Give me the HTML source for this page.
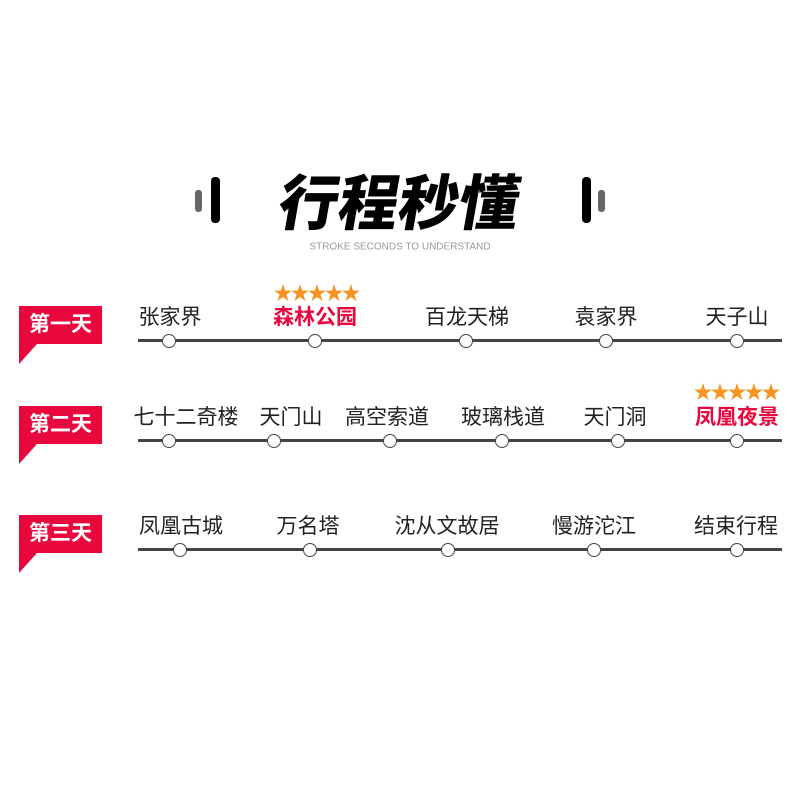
<!DOCTYPE html>
<html><head><meta charset="utf-8"><style>
body{margin:0;width:800px;height:800px;background:#fff;position:relative;overflow:hidden;font-family:"Liberation Sans","Noto Sans CJK SC",sans-serif}
.a{position:absolute}
.t{position:absolute;transform:translate(-50%,-50%);font-size:21px;color:#222;white-space:nowrap}
.r{color:#e8083e;font-weight:bold}
.line{position:absolute;left:138px;width:644px;height:3px;background:#444}
.c{position:absolute;width:12px;height:12px;border:1.5px solid #444;border-radius:50%;background:#fff;transform:translate(-50%,-50%)}
.tag{position:absolute;left:19px;width:83px;height:38px;background:#e8083e;color:#fff;font-weight:bold;font-size:21px;line-height:38px;text-align:center}
.tag:after{content:"";position:absolute;left:0;top:38px;border-top:0 solid transparent;border-left:18px solid #e8083e;border-top:0;border-bottom:20px solid transparent;width:0;height:0}
.st{position:absolute;color:#f7931e;font-size:19px;letter-spacing:-2px;transform:translate(-50%,-50%)}
</style></head><body>
<div class="a" style="left:195px;top:190px;width:7px;height:22px;background:#666;border-radius:3px"></div>
<div class="a" style="left:211px;top:177px;width:9px;height:46px;background:#000;border-radius:4px"></div>
<div class="a" style="left:582px;top:177px;width:9px;height:46px;background:#000;border-radius:4px"></div>
<div class="a" style="left:598px;top:190px;width:7px;height:22px;background:#666;border-radius:3px"></div>
<div class="t" style="left:400px;top:199px;font-size:60px;font-weight:900;color:#000;transform:translate(-50%,-50%) skewX(-10deg)">行程秒懂</div>
<div class="t" style="left:400px;top:247px;font-size:10px;color:#999">STROKE SECONDS TO UNDERSTAND</div>

<div class="tag" style="top:306px">第一天</div>
<div class="tag" style="top:406px">第二天</div>
<div class="tag" style="top:515px">第三天</div>

<div class="line" style="top:339px"></div>
<div class="line" style="top:439px"></div>
<div class="line" style="top:548px"></div>

<div class="st" style="left:316px;top:292px">★★★★★</div>
<div class="st" style="left:736px;top:391px">★★★★★</div>

<div class="t" style="left:170px;top:316px">张家界</div>
<div class="t r" style="left:315px;top:316px">森林公园</div>
<div class="t" style="left:467px;top:316px">百龙天梯</div>
<div class="t" style="left:606px;top:316px">袁家界</div>
<div class="t" style="left:737px;top:316px">天子山</div>
<div class="c" style="left:169px;top:341px"></div><div class="c" style="left:315px;top:341px"></div><div class="c" style="left:466px;top:341px"></div><div class="c" style="left:606px;top:341px"></div><div class="c" style="left:737px;top:341px"></div>

<div class="t" style="left:186px;top:416px">七十二奇楼</div>
<div class="t" style="left:291px;top:416px">天门山</div>
<div class="t" style="left:387px;top:416px">高空索道</div>
<div class="t" style="left:503px;top:416px">玻璃栈道</div>
<div class="t" style="left:615px;top:416px">天门洞</div>
<div class="t r" style="left:737px;top:416px">凤凰夜景</div>
<div class="c" style="left:169px;top:441px"></div><div class="c" style="left:274px;top:441px"></div><div class="c" style="left:390px;top:441px"></div><div class="c" style="left:502px;top:441px"></div><div class="c" style="left:618px;top:441px"></div><div class="c" style="left:737px;top:441px"></div>

<div class="t" style="left:181px;top:525px">凤凰古城</div>
<div class="t" style="left:308px;top:525px">万名塔</div>
<div class="t" style="left:447px;top:525px">沈从文故居</div>
<div class="t" style="left:594px;top:525px">慢游沱江</div>
<div class="t" style="left:736px;top:525px">结束行程</div>
<div class="c" style="left:180px;top:550px"></div><div class="c" style="left:310px;top:550px"></div><div class="c" style="left:448px;top:550px"></div><div class="c" style="left:594px;top:550px"></div><div class="c" style="left:737px;top:550px"></div>
</body></html>
